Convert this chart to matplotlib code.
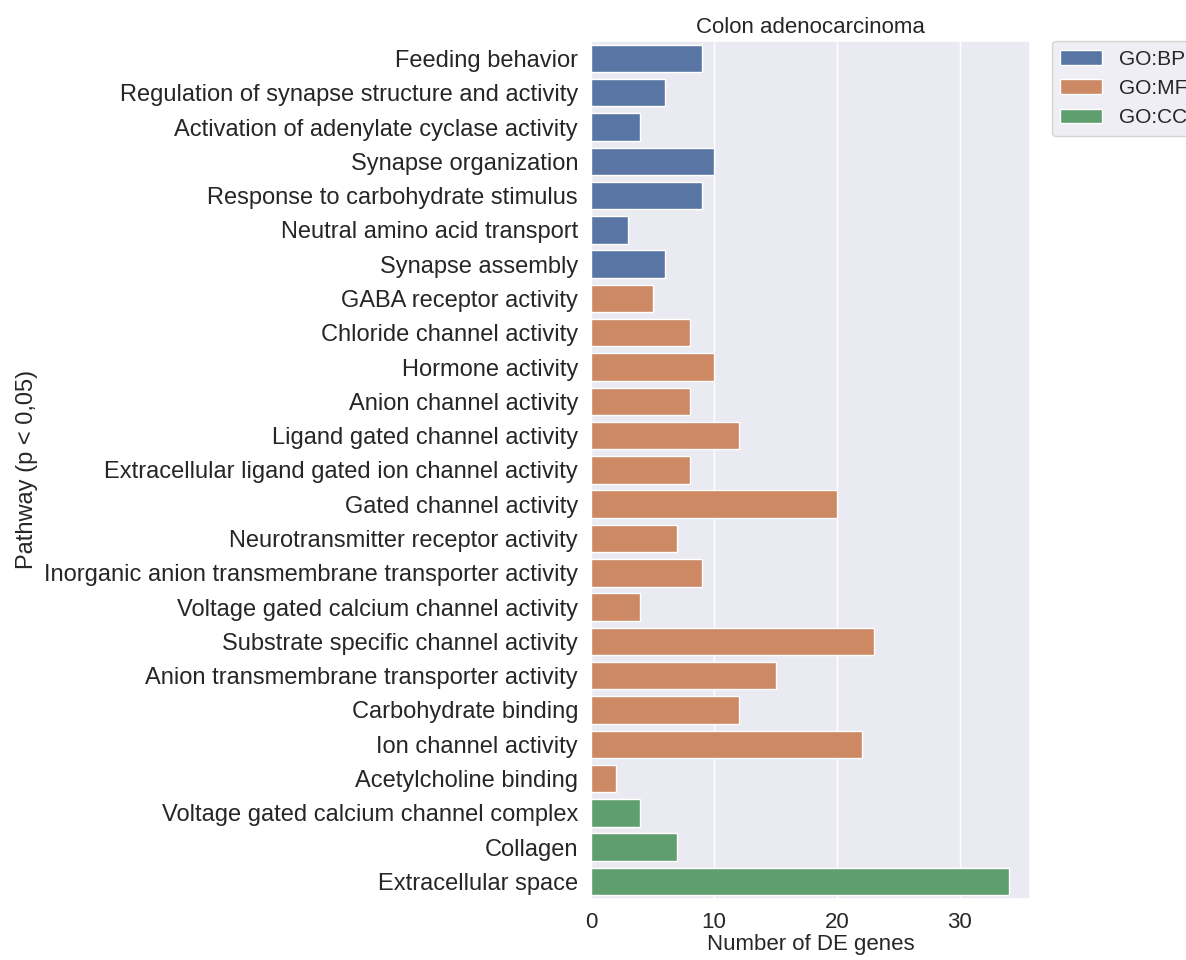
import matplotlib
matplotlib.use("Agg")
import matplotlib.pyplot as plt
import seaborn as sns
import pandas as pd

pathways = [
    "Feeding behavior",
    "Regulation of synapse structure and activity",
    "Activation of adenylate cyclase activity",
    "Synapse organization",
    "Response to carbohydrate stimulus",
    "Neutral amino acid transport",
    "Synapse assembly",
    "GABA receptor activity",
    "Chloride channel activity",
    "Hormone activity",
    "Anion channel activity",
    "Ligand gated channel activity",
    "Extracellular ligand gated ion channel activity",
    "Gated channel activity",
    "Neurotransmitter receptor activity",
    "Inorganic anion transmembrane transporter activity",
    "Voltage gated calcium channel activity",
    "Substrate specific channel activity",
    "Anion transmembrane transporter activity",
    "Carbohydrate binding",
    "Ion channel activity",
    "Acetylcholine binding",
    "Voltage gated calcium channel complex",
    "Collagen",
    "Extracellular space",
]
de_genes = [9, 6, 4, 10, 9, 3, 6, 5, 8, 10, 8, 12, 8, 20, 7, 9, 4, 23, 15, 12, 22, 2, 4, 7, 34]
sources = ["GO:BP"] * 7 + ["GO:MF"] * 15 + ["GO:CC"] * 3

sns.set_theme(style="darkgrid")
plt.rcParams['font.family'] = ['Liberation Sans', 'DejaVu Sans']

df = pd.DataFrame({"Pathway": pathways, "Genes": de_genes, "Source": sources})

fig = plt.figure(figsize=(11.86, 9.6), dpi=100)
ax = fig.add_axes([0.4985, 0.064, 0.37, 0.893])
sns.barplot(data=df, x="Genes", y="Pathway", hue="Source", dodge=False, ax=ax)

ax.set_title("Colon adenocarcinoma", fontsize=16)
ax.set_xlabel("Number of DE genes", fontsize=16, labelpad=1)
ax.set_ylabel("Pathway (p < 0,05)", fontsize=17)
ax.tick_params(axis='y', labelsize=17)
ax.tick_params(axis='x', labelsize=16)
ax.set_xticks([0, 10, 20, 30])
ax.legend(bbox_to_anchor=(1.05, 1), loc='upper left', borderaxespad=0, fontsize=15)

fig.savefig("out.png", dpi=100)
